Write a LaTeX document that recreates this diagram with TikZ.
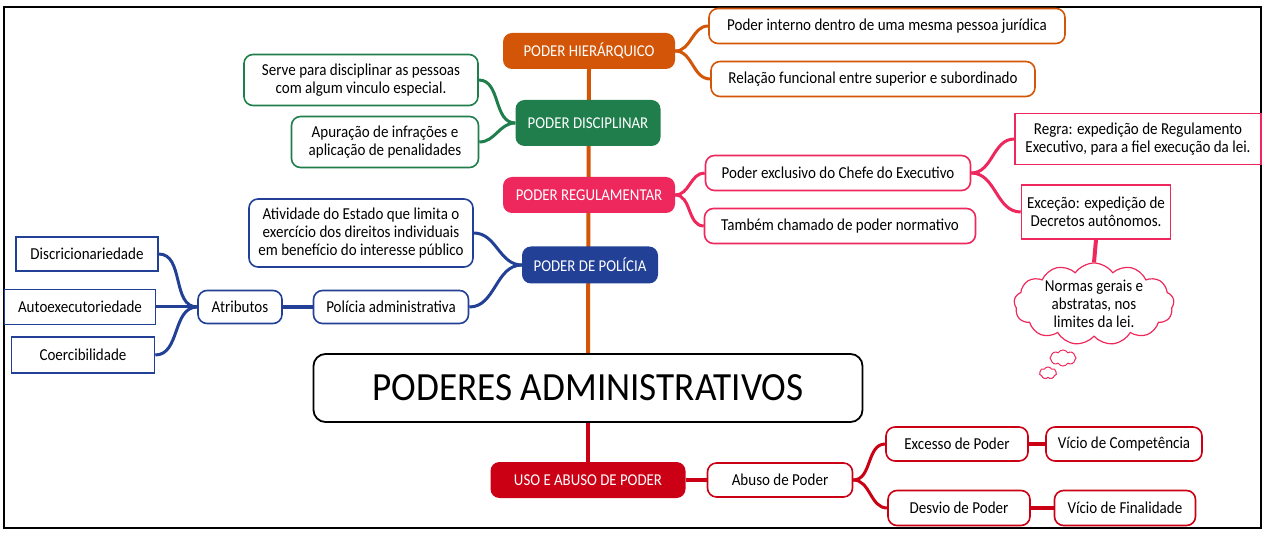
\documentclass[tikz,border=0pt]{standalone}
\usepackage{fontspec}
\setmainfont{Carlito}
\newfontfamily\cfont[FakeStretch=0.9]{Carlito}
\newfontfamily\tcfont[FakeStretch=0.93]{Carlito}
\usetikzlibrary{shapes.symbols,backgrounds}
\definecolor{corg}{RGB}{211,86,8}
\definecolor{cgrn}{RGB}{32,126,76}
\definecolor{cpnk}{RGB}{238,40,92}
\definecolor{cblu}{RGB}{34,64,150}
\definecolor{cred}{RGB}{204,0,20}
\newcommand{\lfont}{\cfont\fontsize{16.7}{18}\selectfont}
\newcommand{\hfont}{\cfont\fontsize{16.5}{18}\selectfont}
\newcommand{\tfont}{\tcfont\fontsize{40}{42}\selectfont}
\tikzset{
  hdr/.style={fill=#1, text=white, rounded corners=9pt, font=\hfont, inner sep=0pt, align=center},
  leaf/.style={draw=#1, fill=white, line width=1.6pt, rounded corners=9pt, font=\lfont, inner sep=0pt, align=center},
  sq/.style={draw=#1, fill=white, line width=1.6pt, font=\lfont, inner sep=0pt, align=center},
  conn/.style={draw=#1, line width=3pt},
  sz/.style 2 args={minimum width=#1pt, minimum height=#2pt}
}
\begin{document}
\begin{tikzpicture}[x=1pt,y=-1pt]
\useasboundingbox (0,0) rectangle (1267,537);
\draw[line width=2pt] (4,7) rectangle (1261,528);

% main branch headers
\node[hdr=corg, sz={172}{36}] (hier) at (589,51) {PODER HIERÁRQUICO};
\node[hdr=cgrn, sz={145}{46}] (disc) at (588,123) {PODER DISCIPLINAR};
\node[hdr=cpnk, sz={172}{36}] (reg) at (589,195) {PODER REGULAMENTAR};
\node[hdr=cblu, sz={136}{37}] (pol) at (590,265) {PODER DE POLÍCIA};
\node[draw=black, fill=white, line width=1.8pt, rounded corners=12pt, sz={549}{68}, font=\tfont, inner sep=0pt] (central) at (588,388) {PODERES ADMINISTRATIVOS};
\node[hdr=cred, sz={195}{36}] (uso) at (588,480) {USO E ABUSO DE PODER};

% hierarquico
\node[leaf=corg, sz={356}{35}] (h1) at (887,26) {Poder interno dentro de uma mesma pessoa jurídica};
\node[leaf=corg, sz={324}{35}] (h2) at (873,79) {Relação funcional entre superior e subordinado};

% disciplinar
\node[leaf=cgrn, sz={234}{51}] (d1) at (361,80) {Serve para disciplinar as pessoas\\com algum vinculo especial.};
\node[leaf=cgrn, sz={187}{51}] (d2) at (385,142) {Apuração de infrações e\\aplicação de penalidades};

% regulamentar
\node[leaf=cpnk, sz={265}{35}] (r1) at (838,173) {Poder exclusivo do Chefe do Executivo};
\node[leaf=cpnk, sz={271}{35}] (r2) at (840,226) {Também chamado de poder normativo};
\node[sq=cpnk, sz={246}{51}] (r3) at (1138,139) {Regra: expedição de Regulamento\\Executivo, para a fiel execução da lei.};
\node[sq=cpnk, sz={149}{54}] (r4) at (1096,212) {Exceção: expedição de\\Decretos autônomos.};
\node[cloud, cloud puffs=13, cloud puff arc=110, aspect=2, draw=cpnk, fill=white, line width=1.2pt, inner sep=-6pt, sz={160}{82}, font=\lfont, align=center] (cl) at (1094,304) {Normas gerais e\\abstratas, nos\\limites da lei.};
\node[cloud, cloud puffs=8, cloud puff arc=120, aspect=1.6, draw=cpnk, line width=1pt, sz={26}{16}, inner sep=0pt] (cl2) at (1063,358) {};
\node[cloud, cloud puffs=7, cloud puff arc=120, aspect=1.4, draw=cpnk, line width=1pt, sz={17}{12}, inner sep=0pt] (cl3) at (1048,373) {};

% policia
\node[leaf=cblu, sz={224}{68}] (p1) at (361,233) {Atividade do Estado que limita o\\exercício dos direitos individuais\\em benefício do interesse público};
\node[leaf=cblu, sz={155}{33}] (p2) at (391,307) {Polícia administrativa};
\node[leaf=cblu, sz={84}{33}] (p3) at (240,307) {Atributos};
\node[sq=cblu, sz={142}{34}] (p4) at (87,254) {Discricionariedade};
\node[sq=cblu, sz={151}{35}] (p5) at (80,307) {Autoexecutoriedade};
\node[sq=cblu, sz={143}{36}] (p6) at (83,355) {Coercibilidade};

% uso e abuso
\node[leaf=cred, sz={145}{34}] (u1) at (780,480) {Abuso de Poder};
\node[leaf=cred, sz={142}{34}] (u2) at (957,444) {Excesso de Poder};
\node[leaf=cred, sz={142}{35}] (u3) at (959,508) {Desvio de Poder};
\node[leaf=cred, sz={156}{34}] (u4) at (1124,444) {Vício de Competência};
\node[leaf=cred, sz={141}{35}] (u5) at (1125,508) {Vício de Finalidade};

\begin{pgfonlayer}{background}
\draw[conn=corg, line width=4pt] (hier.south) -- (central.north);
\draw[conn=cred, line width=4pt] (central.south) -- (uso.north);
\draw[conn=corg] (hier.east) to[out=0,in=180] (h1.west);
\draw[conn=corg] (hier.east) to[out=0,in=180] (h2.west);
\draw[conn=cgrn] (disc.west) to[out=180,in=0] (d1.east);
\draw[conn=cgrn] (disc.west) to[out=180,in=0] (d2.east);
\draw[conn=cpnk] (reg.east) to[out=0,in=180] (r1.west);
\draw[conn=cpnk] (reg.east) to[out=0,in=180] (r2.west);
\draw[conn=cpnk] (r1.east) to[out=0,in=180] (r3.west);
\draw[conn=cpnk] (r1.east) to[out=0,in=180] (r4.west);
\draw[conn=cpnk, line width=4pt] (r4.south) -- (cl.north);
\draw[conn=cblu] (pol.west) to[out=180,in=0] (p1.east);
\draw[conn=cblu] (pol.west) to[out=180,in=0] (p2.east);
\draw[conn=cblu, line width=4pt] (p2.west) -- (p3.east);
\draw[conn=cblu] (p3.west) to[out=180,in=0] (p4.east);
\draw[conn=cblu] (p3.west) to[out=180,in=0] (p5.east);
\draw[conn=cblu] (p3.west) to[out=180,in=0] (p6.east);
\draw[conn=cred, line width=4pt] (uso.east) -- (u1.west);
\draw[conn=cred] (u1.east) to[out=0,in=180] (u2.west);
\draw[conn=cred] (u1.east) to[out=0,in=180] (u3.west);
\draw[conn=cred, line width=4pt] (u2.east) -- (u4.west);
\draw[conn=cred, line width=4pt] (u3.east) -- (u5.west);
\end{pgfonlayer}
\end{tikzpicture}
\end{document}
